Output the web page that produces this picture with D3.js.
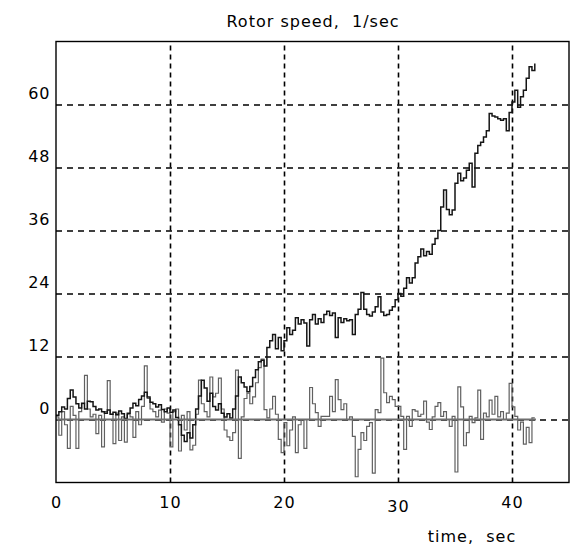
<!DOCTYPE html>
<html>
<head>
<meta charset="utf-8">
<script src="https://cdn.jsdelivr.net/npm/d3@7"></script>
<style>
  body { margin: 0; background: #fff; }
  svg { display: block; background: #fff; }
  text { font-family: 'DejaVu Sans', sans-serif; font-size: 16px; letter-spacing: 1px; fill: #000; }
</style>
</head>
<body>
<svg></svg>
<script>
// samples are every 0.25 sec, starting at 0
let sampleStep = 0.25

// rotor speed (black), 1/sec
let speedValues = [
  0.8, 1.5, 2.4, 2.0,   4.0, 5.6, 4.3, 3.0,   2.2, 3.1, 2.0, 3.5,   3.4, 2.5, 1.8, 2.0,
  1.5, 1.2, 1.8, 1.0,   1.4, 0.9, 1.6, 1.1,   0.2, 1.2, 2.2, 3.1,   2.6, 3.8, 4.5, 5.2,
  4.3, 3.3, 3.0, 2.4,   2.8, 1.9, 1.5, 2.2,   1.4, 1.8, 0.4, -1.0,  -3.0, -4.2, -2.5, -3.5,
  -1.0, 2.0, 4.5, 7.5,  6.0, 3.5, 5.0, 2.5,   1.8, 3.0, 1.2, 0.5,   1.1, 0.3, 2.0, 4.5,
  8.1, 7.0, 6.2, 5.3,   6.3, 8.0, 9.5, 11.0,  11.3, 10.2, 13.7, 15.0,  16.2, 13.5, 15.6, 13.1,
  15.0, 17.5, 16.2, 17.0,  19.4, 18.2, 19.0, 18.4,  14.0, 19.0, 20.0, 18.2,  19.2, 18.5, 20.0, 20.6,
  19.8, 20.3, 15.6, 19.4,  18.5, 19.2, 18.8, 19.0,  16.2, 20.0, 21.0, 24.2,  21.0, 20.0, 19.7, 20.5,
  21.5, 23.4, 20.5, 19.8,  20.0, 20.8, 21.5, 22.8,  24.0, 23.5, 25.0, 27.0,  26.0, 27.0, 29.8, 31.0,
  32.5, 31.2, 32.0, 31.5,  33.4, 34.5, 36.0, 40.5,  43.7, 40.0, 39.0, 39.9,  45.0, 46.9, 45.5, 46.0,
  47.5, 48.8, 44.3, 50.7,  52.2, 52.8, 53.8, 55.0,  58.3, 57.8, 57.6, 57.3,  57.0, 57.3, 55.0, 58.5,
  60.5, 62.7, 59.5, 61.5,  62.7, 65.0, 67.2, 66.5,  67.8
]

// second signal (grey)
let signalValues = [
  0.5, -3.0, 1.5, -1.0,  -5.5, 2.5, 0.8, -5.5,  1.5, 3.0, 8.4, 2.0,   0.5, 1.0, -2.7, 0.8,
  -5.2, 1.5, 7.4, 1.0,   -4.6, 1.2, -4.0, 0.5,  -4.3, 1.0, 0.5, -3.4,  1.5, -1.0, 2.5, 10.2,
  4.0, 2.0, 1.5, 0.5,    1.8, -0.5, 2.0, 1.2,   -5.2, 1.5, 2.0, -6.0,  0.8, -2.0, 1.5, -5.8,
  -4.9, 1.0, 7.5, 3.0,   1.5, 0.5, 8.1, 4.3,    5.0, 7.9, 2.0, -2.0,   -3.3, -4.0, -2.5, 9.4,
  -7.4, 0.5, 4.0, 5.0,   3.0, 4.3, 7.0, 9.9,    11.5, 1.9, 0.3, 2.0,   4.4, 1.0, -3.8, -6.3,
  -0.6, -5.0, -2.0, 0.5, -6.3, -1.0, 0.0, -5.5, 0.0, 6.1, 3.0, 1.3,    -1.3, 0.6, 0.6, 0.6,
  4.4, 1.5, 7.6, 3.8,    1.9, 3.0, 0.0, 0.5,    -3.2, -10.9, -5.7, -2.5,  -4.0, -1.3, -0.6, -10.2,
  1.9, 1.3, 11.7, 5.1,   3.2, 4.4, 3.8, 2.5,    2.5, 0.6, -5.7, 0.6,   -1.3, 1.9, 1.6, 0.6,
  1.0, 3.5, -0.5, -1.9,  0.5, 2.5, 3.2, 0.6,    1.5, 0.0, -1.3, 0.6,   -10.0, 6.2, 2.4, -5.0,
  -2.5, 0.6, -0.6, 0.3,  5.6, -3.8, 1.2, 0.5,   3.7, 1.0, 4.4, 0.5,    1.5, 0.0, 1.2, 6.9,
  2.4, 0.6, -2.0, -0.5,  -4.7, -1.5, -4.4, 0.3, 0.3
]

// flat reference line
let zeroTimes = [0, 42.1]
let zeroValues = [0, 0]

let xGrid = [10, 20, 30, 40]
let xLabels = [0, 10, 20, 30, 40]
let yGrid = [0, 12, 24, 36, 48, 60]
let yLabels = [0, 12, 24, 36, 48, 60]

let titleText = 'Rotor speed,  1/sec'
let xTitle = 'time,  sec'

let width = 584
let height = 551
let plotLeft = 56
let plotRight = 569
let plotTop = 41.5
let plotBottom = 482.5

let svg = d3.select('svg').attr('width', width).attr('height', height)

let xScale = d3.scaleLinear().domain([0, 45]).range([plotLeft, plotRight])
let yScale = d3.scaleLinear().domain([-12, 72]).range([plotBottom, plotTop])

let toPoints = (vals, times) => vals.map((v, i) => ({ t: times ? times[i] : i * sampleStep, v: v }))

let drawGrid = () => {
  svg.append('g')
    .attr('transform', 'translate(' + plotLeft + ',0)')
    .call(d3.axisLeft(yScale).tickValues(yGrid).tickSize(-(plotRight - plotLeft)).tickFormat(''))
    .call(g => g.select('.domain').remove())
    .selectAll('line')
    .attr('stroke', '#000')
    .attr('stroke-width', 1.3)
    .attr('stroke-dasharray', '6,5')

  svg.append('g')
    .attr('transform', 'translate(0,' + plotBottom + ')')
    .call(d3.axisBottom(xScale).tickValues(xGrid).tickSize(-(plotBottom - plotTop)).tickFormat(''))
    .call(g => g.select('.domain').remove())
    .selectAll('line')
    .attr('stroke', '#000')
    .attr('stroke-width', 1.6)
    .attr('stroke-dasharray', '5,4')
}

let drawLabels = () => {
  let xAxis = d3.axisBottom(xScale).tickValues(xLabels).tickSize(0).tickFormat(d3.format('d'))
  let yAxis = d3.axisLeft(yScale).tickValues(yLabels).tickSize(0).tickFormat(d3.format('d'))

  svg.append('g').call(xAxis)
    .attr('transform', 'translate(0,' + plotBottom + ')')
    .call(g => g.select('.domain').remove())
    .selectAll('text')
    .attr('dy', 0)
    .attr('y', d => d === 30 ? 29.5 : 25.5)

  svg.append('g').call(yAxis)
    .attr('transform', 'translate(' + plotLeft + ',0)')
    .call(g => g.select('.domain').remove())
    .selectAll('text')
    .attr('dy', 0)
    .attr('x', -5.5)
    .attr('y', -6)

  svg.append('text')
    .attr('x', 313)
    .attr('y', 27)
    .attr('text-anchor', 'middle')
    .attr('xml:space', 'preserve')
    .text(titleText)

  svg.append('text')
    .attr('x', 472)
    .attr('y', 542)
    .attr('text-anchor', 'middle')
    .attr('xml:space', 'preserve')
    .text(xTitle)
}

let drawSeries = () => {
  let stepLine = d3.line()
    .x(d => xScale(d.t))
    .y(d => yScale(d.v))
    .curve(d3.curveStepAfter)

  svg.append('path')
    .datum(toPoints(signalValues))
    .attr('d', stepLine)
    .attr('fill', 'none')
    .attr('stroke', '#606060')
    .attr('stroke-width', 1.2)

  svg.append('path')
    .datum(toPoints(speedValues))
    .attr('d', stepLine)
    .attr('fill', 'none')
    .attr('stroke', '#151515')
    .attr('stroke-width', 1.5)

  svg.append('path')
    .datum(toPoints(zeroValues, zeroTimes))
    .attr('d', d3.line().x(d => xScale(d.t)).y(d => yScale(d.v)))
    .attr('fill', 'none')
    .attr('stroke', '#6e6e6e')
    .attr('stroke-width', 2)
}

let drawFrame = () => {
  svg.append('rect')
    .attr('x', plotLeft)
    .attr('y', plotTop)
    .attr('width', plotRight - plotLeft)
    .attr('height', plotBottom - plotTop)
    .attr('fill', 'none')
    .attr('stroke', '#000')
    .attr('stroke-width', 1.4)
}

drawGrid()
drawSeries()
drawFrame()
drawLabels()
</script>
</body>
</html>
